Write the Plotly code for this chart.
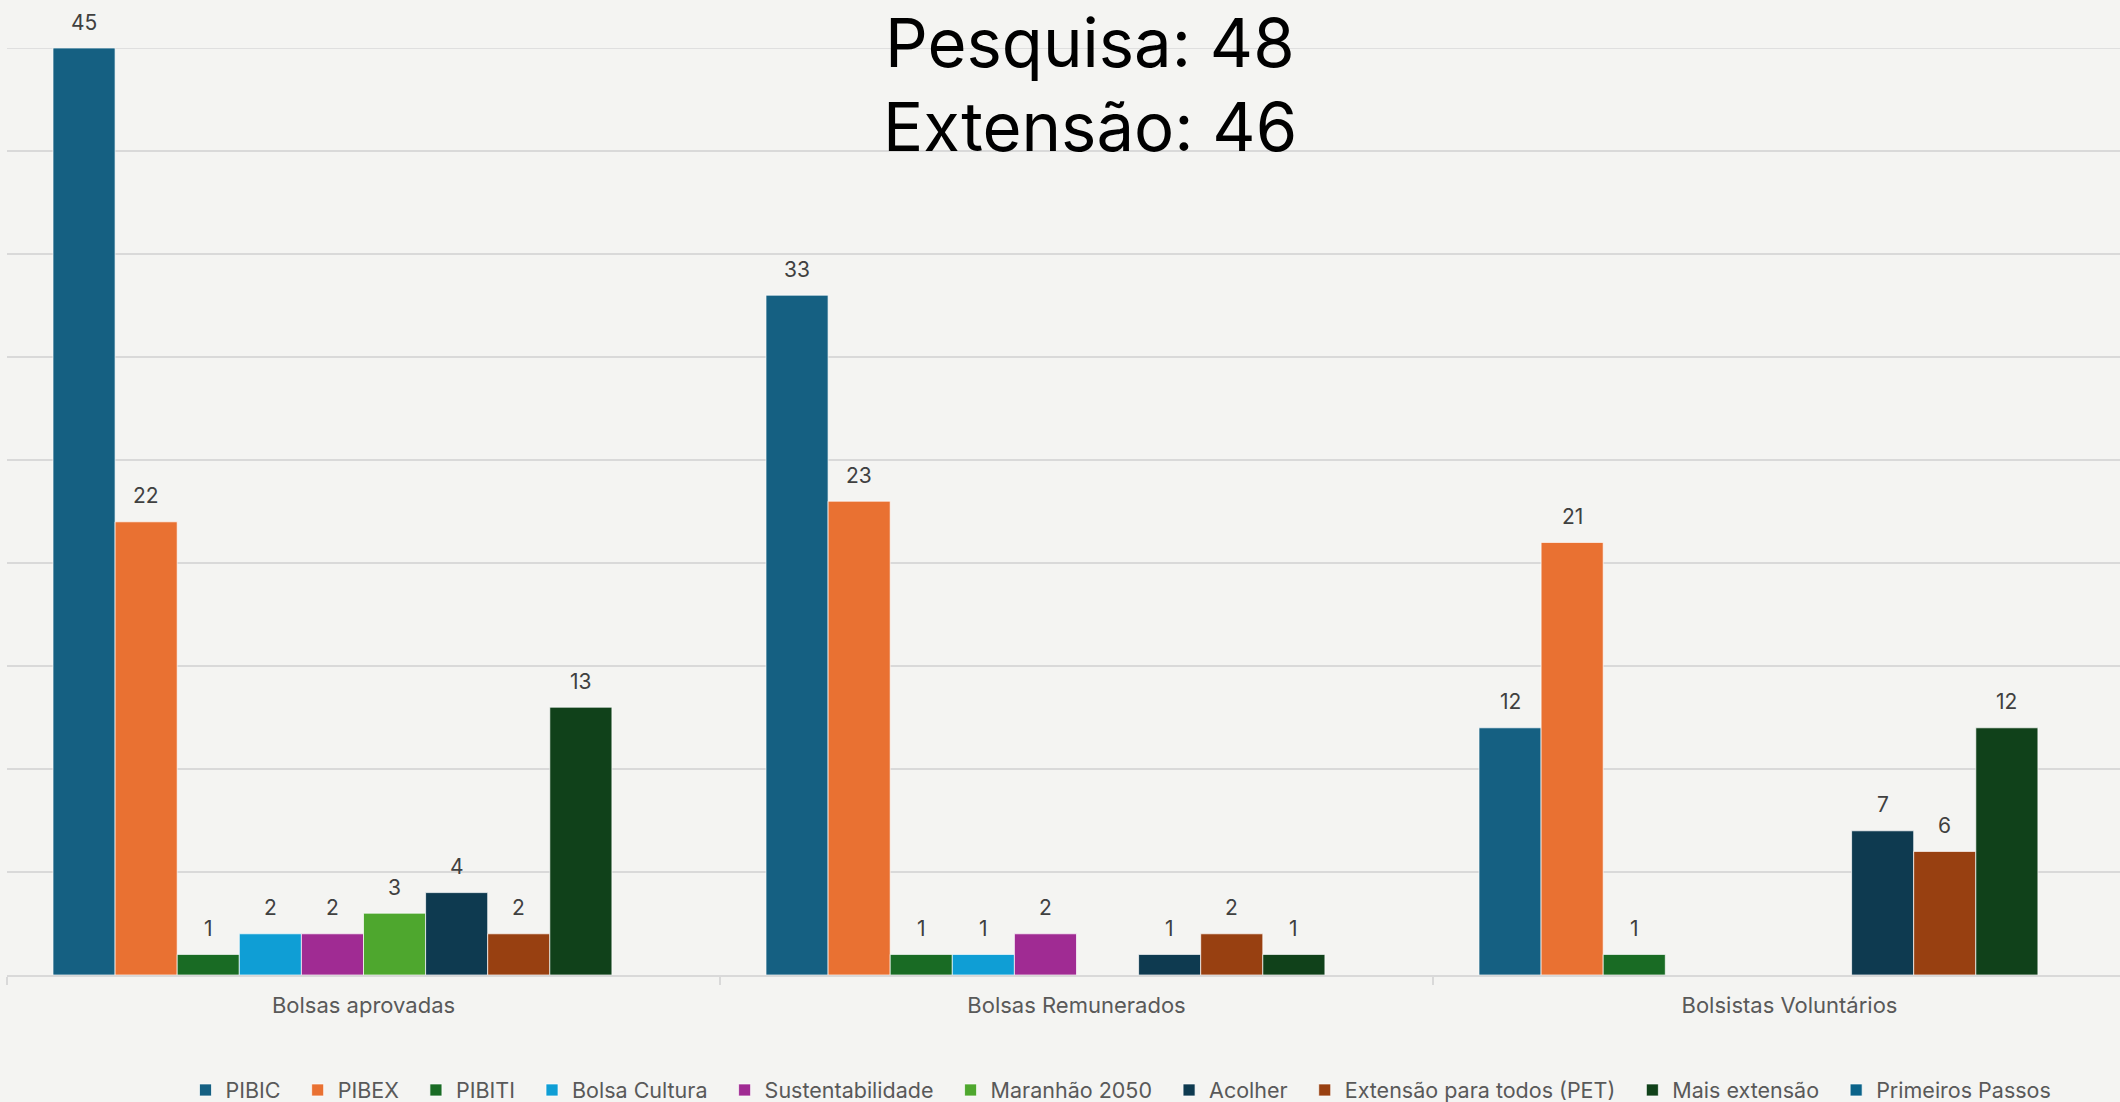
import plotly.graph_objects as go

categories = ["Bolsas aprovadas", "Bolsas Remunerados", "Bolsistas Voluntários"]
series_names = ["PIBIC", "PIBEX", "PIBITI", "Bolsa Cultura", "Sustentabilidade",
                "Maranhão 2050", "Acolher", "Extensão para todos (PET)",
                "Mais extensão", "Primeiros Passos"]
pibic = [45, 33, 12]
pibex = [22, 23, 21]
pibiti = [1, 1, 1]
bolsa_cultura = [2, 1, None]
sustentabilidade = [2, 2, None]
maranhao_2050 = [3, None, None]
acolher = [4, 1, 7]
extensao_pet = [2, 2, 6]
mais_extensao = [13, 1, 12]
primeiros_passos = [None, None, None]
series_values = [pibic, pibex, pibiti, bolsa_cultura, sustentabilidade,
                 maranhao_2050, acolher, extensao_pet, mais_extensao, primeiros_passos]
colors = ["#156082", "#E97132", "#196B24", "#0F9ED5", "#A02B93",
          "#4EA72E", "#0E3A50", "#984011", "#10411A", "#0B6389"]
title_lines = ["Pesquisa: 48", "Extensão: 46"]

W, H = 2120, 1102
ML, MR, MT, MB = 7, 0, 48, 127
BARGAP = 0.129
FONT = "Inter, 'Open Sans', sans-serif"
TXT = "#595959"
BG = "#F4F4F2"
GRID = "#D9D9D9"

fig = go.Figure()
for idx, (name, vals, col) in enumerate(zip(series_names, series_values, colors)):
    pad = "" if idx == len(series_names) - 1 else "\u00a0\u00a0"
    fig.add_trace(go.Bar(
        name=name + pad, x=categories, y=vals,
        marker=dict(color=col, line=dict(color="rgba(255,255,255,0.7)", width=1)),
        cliponaxis=False,
    ))

plot_w = W - ML - MR
plot_h = H - MT - MB

# data labels placed above each grouped bar
n = len(series_names)
slot = (1 - BARGAP) / n
annotations = []
for i, vals in enumerate(series_values):
    for ci, v in enumerate(vals):
        if v is None:
            continue
        annotations.append(dict(
            x=ci - (1 - BARGAP) / 2 + (i + 0.5) * slot, y=v, xref="x", yref="y",
            text=str(v), showarrow=False, yanchor="middle", yshift=26,
            font=dict(family=FONT, size=21, color="#404040")))

title_y_px = [42, 126]
for k, line in enumerate(title_lines):
    annotations.append(dict(
        x=(1090 - ML) / plot_w, y=1 + (MT - title_y_px[k]) / plot_h,
        xref="paper", yref="paper",
        text=line, showarrow=False, xanchor="center", yanchor="middle",
        font=dict(family=FONT, size=67, color="#000000")))

group_w = plot_w / 713.0
y_max = 45
fig.update_layout(
    width=W, height=H,
    margin=dict(l=ML, r=MR, t=MT, b=MB, pad=0, autoexpand=False),
    paper_bgcolor=BG, plot_bgcolor=BG,
    barmode="group", bargap=BARGAP, bargroupgap=0,
    font=dict(family=FONT, color=TXT),
    annotations=annotations,
    shapes=[dict(type="line", xref="paper", yref="y", x0=0, x1=1, y0=y_max, y1=y_max,
                 line=dict(color=GRID, width=1.5), layer="below")],
    showlegend=True,
    legend=dict(orientation="h", x=(1121 - ML) / plot_w, xanchor="center",
                y=1 - (1090 - MT) / plot_h, yanchor="middle",
                font=dict(family=FONT, size=21.5, color=TXT), bgcolor="rgba(0,0,0,0)",
                traceorder="normal"),
    xaxis=dict(type="category", range=[-0.5, -0.5 + group_w], tickson="boundaries",
               ticks="outside", ticklen=8, tickcolor=GRID, tickwidth=1.5,
               showline=True, linecolor=GRID, linewidth=1.5, showgrid=False,
               tickfont=dict(family=FONT, size=22, color=TXT), ticklabelstandoff=10),
    yaxis=dict(range=[0, y_max], tickvals=[5, 10, 15, 20, 25, 30, 35, 40],
               showgrid=True, gridcolor=GRID, gridwidth=1.5,
               showticklabels=False, zeroline=False, showline=False, ticks=""),
)
fig.write_html("out.html", config={"displayModeBar": False},
               post_script="document.body.style.margin='0';"
                           "document.body.style.background='" + BG + "';")
